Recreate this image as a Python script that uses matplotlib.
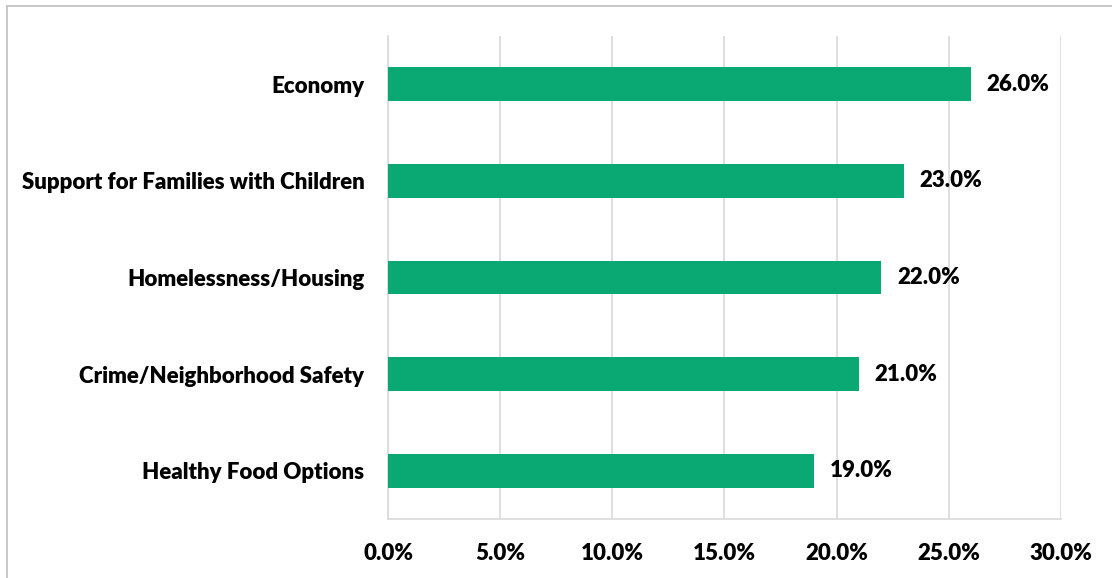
import matplotlib
matplotlib.use("Agg")
import matplotlib.pyplot as plt
import matplotlib.ticker as ticker
from matplotlib.patches import Rectangle

plt.rcParams["font.family"] = ["Lato", "DejaVu Sans"]
plt.rcParams["font.weight"] = "heavy"

categories = ["Economy", "Support for Families with Children", "Homelessness/Housing",
              "Crime/Neighborhood Safety", "Healthy Food Options"]
values = [26.0, 23.0, 22.0, 21.0, 19.0]
xticks = [0, 5, 10, 15, 20, 25, 30]

green = "#0aa872"
grid_grey = "#d9d9d9"
fs = 16

fig = plt.figure(figsize=(11.12, 5.78), dpi=100)
ax = fig.add_axes([0.349, 0.102, 0.605, 0.836])

pos = list(range(len(categories)))[::-1]
ax.barh(pos, values, height=0.35, color=green, zorder=3)
for p, v in zip(pos, values):
    ax.text(v + 0.7, p, f"{v:.1f}%", va="center", ha="left", fontsize=fs,
            fontweight="heavy", color="black")

ax.set_yticks(pos)
ax.set_yticklabels(categories, fontsize=fs, fontweight="heavy")
ax.set_xlim(0, 30)
ax.set_ylim(-0.5, len(categories) - 0.5)
ax.set_xticks(xticks)
ax.xaxis.set_major_formatter(ticker.FuncFormatter(lambda x, _: f"{x:.1f}%"))
for lab in ax.get_xticklabels():
    lab.set_fontsize(fs)
    lab.set_fontweight("heavy")

ax.grid(axis="x", color=grid_grey, lw=1.2, zorder=0)
ax.tick_params(axis="both", length=0)
ax.tick_params(axis="y", pad=17)
ax.tick_params(axis="x", pad=17)
for s in ["top", "right"]:
    ax.spines[s].set_visible(False)
for s in ["left", "bottom"]:
    ax.spines[s].set_color(grid_grey)
    ax.spines[s].set_linewidth(1.2)

fig.patches.append(Rectangle((7 / 1112, -0.05), 1.1, 1.05 - 6 / 578, transform=fig.transFigure,
                             fill=False, edgecolor="#bfbfbf", lw=1.2))

fig.savefig("out.png", dpi=100)
